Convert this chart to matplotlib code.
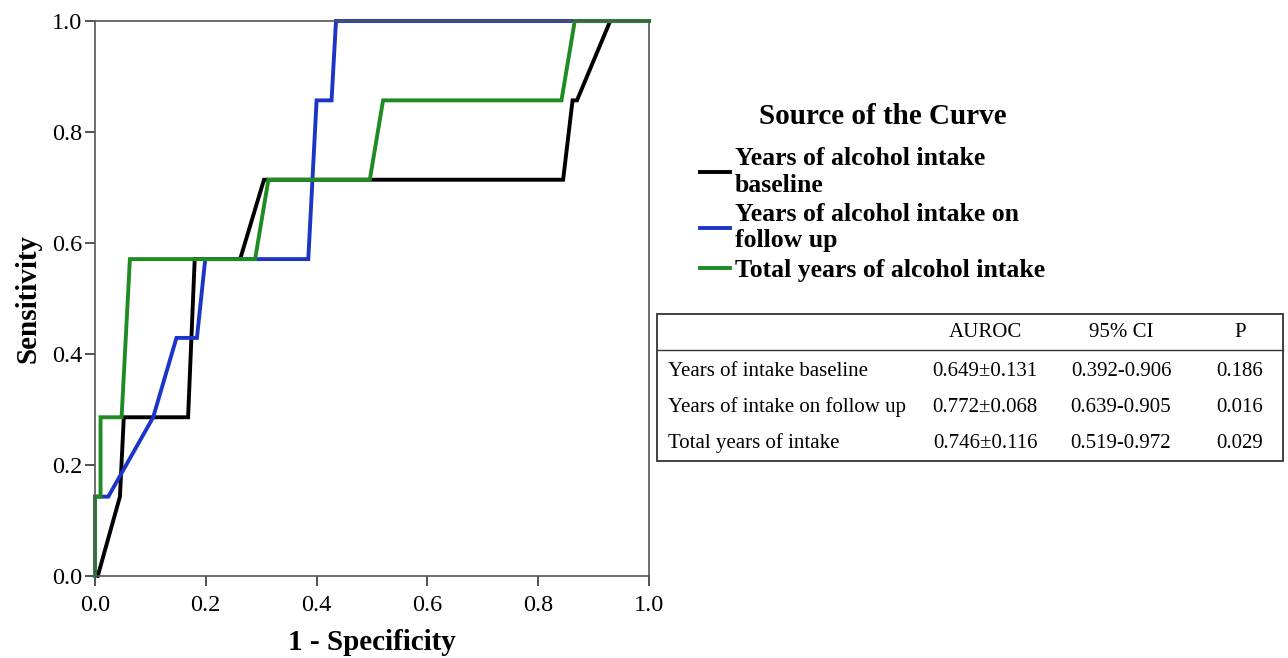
import matplotlib
matplotlib.use("Agg")
import matplotlib.pyplot as plt
from matplotlib.patches import Rectangle
from matplotlib.lines import Line2D

plt.rcParams["font.family"] = ["Liberation Serif", "DejaVu Serif"]

# ROC curves (1 - specificity, sensitivity)
fpr_baseline = [0.0, 0.005, 0.045, 0.052, 0.168, 0.180, 0.262, 0.305, 0.845, 0.862, 0.870, 0.930, 1.0]
tpr_baseline = [0.0, 0.0, 0.143, 0.286, 0.286, 0.571, 0.571, 0.714, 0.714, 0.857, 0.857, 1.0, 1.0]

fpr_follow = [0.0, 0.0, 0.024, 0.105, 0.147, 0.184, 0.199, 0.385, 0.400, 0.427, 0.435, 1.0]
tpr_follow = [0.0, 0.143, 0.143, 0.286, 0.429, 0.429, 0.571, 0.571, 0.857, 0.857, 1.0, 1.0]

fpr_total = [0.0, 0.0, 0.010, 0.010, 0.048, 0.063, 0.289, 0.313, 0.496, 0.520, 0.842, 0.866, 1.0]
tpr_total = [0.0, 0.143, 0.143, 0.286, 0.286, 0.571, 0.571, 0.714, 0.714, 0.857, 0.857, 1.0, 1.0]

curve_labels = [
    "Years of alcohol intake\nbaseline",
    "Years of alcohol intake on\nfollow up",
    "Total years of alcohol intake",
]
curve_colors = ["#000000", "#1c35c8", "#1e8c23"]

ticks = [0.0, 0.2, 0.4, 0.6, 0.8, 1.0]

# summary table
table_header = ["AUROC", "95% CI", "P"]
table_rows = [
    "Years of intake baseline",
    "Years of intake on follow up",
    "Total years of intake",
]
auroc = ["0.649\u00b10.131", "0.772\u00b10.068", "0.746\u00b10.116"]
ci95 = ["0.392-0.906", "0.639-0.905", "0.519-0.972"]
p_values = ["0.186", "0.016", "0.029"]

W, H = 1288, 658
fig = plt.figure(figsize=(12.88, 6.58), dpi=100)
ax = fig.add_axes([95 / W, 1 - 576 / H, 554 / W, 555 / H])

curves = [(fpr_baseline, tpr_baseline), (fpr_follow, tpr_follow), (fpr_total, tpr_total)]
for (x, y), lab, col in zip(curves, curve_labels, curve_colors):
    ax.plot(x, y, color=col, lw=2.8, label=lab, clip_on=False, solid_joinstyle="miter")

ax.set_xlim(0, 1)
ax.set_ylim(0, 1)
ax.set_xticks(ticks)
ax.set_yticks(ticks)
ax.set_xticklabels([f"{t:.1f}" for t in ticks])
ax.set_yticklabels([f"{t:.1f}" for t in ticks])
ax.tick_params(direction="out", length=7, width=1.3, color="#444444", labelsize=17.5)
ax.tick_params(axis="x", pad=7)
ax.tick_params(axis="y", pad=2)
for s in ax.spines.values():
    s.set_color("#555555")
    s.set_linewidth(1.2)
ax.set_xlabel("1 - Specificity", fontsize=21, fontweight="bold", labelpad=9)
ax.set_ylabel("Sensitivity", fontsize=21, fontweight="bold", labelpad=8)

fig.text(883 / W, 1 - 116 / H, "Source of the Curve", ha="center", va="center",
         fontsize=21, fontweight="bold")

leg = ax.legend(
    loc="upper left",
    bbox_to_anchor=(700 / W, 1 - 147 / H),
    bbox_transform=fig.transFigure,
    frameon=False,
    prop={"size": 18.5, "weight": "bold"},
    handlelength=1.15,
    handletextpad=0.2,
    labelspacing=0.24,
    borderaxespad=0,
    borderpad=0,
)

# table box
box_l, box_r, box_t, box_b = 657, 1283, 314, 461
fig.patches.append(Rectangle((box_l / W, 1 - box_b / H), (box_r - box_l) / W, (box_b - box_t) / H,
                             transform=fig.transFigure, fill=False, ec="#333333", lw=1.3))
fig.lines.append(Line2D([box_l / W, box_r / W], [1 - 350 / H, 1 - 350 / H],
                        transform=fig.transFigure, color="#333333", lw=1.0))

col_x = [985, 1121, 1240]
for cx, h in zip(col_x, table_header):
    fig.text(cx / W, 1 - 333 / H, h, ha="center", va="center", fontsize=15)
row_y = [371, 407, 443]
for ry, name, a, c, p in zip(row_y, table_rows, auroc, ci95, p_values):
    fig.text(668 / W, 1 - ry / H, name, ha="left", va="center", fontsize=15)
    for cx, v in zip(col_x, [a, c, p]):
        fig.text(cx / W, 1 - ry / H, v, ha="center", va="center", fontsize=15)

fig.savefig("out.png", dpi=100)
